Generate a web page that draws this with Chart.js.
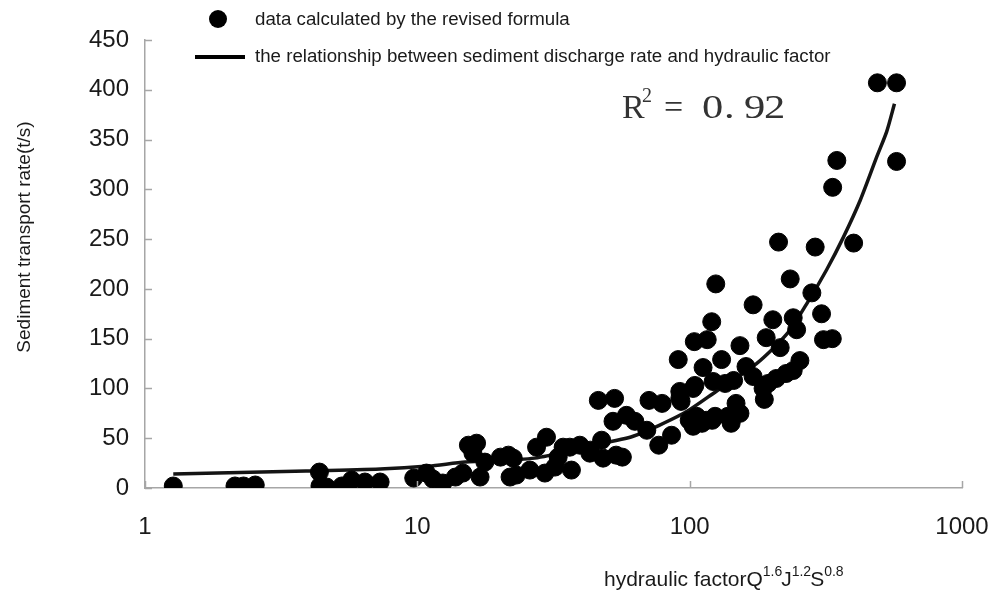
<!DOCTYPE html>
<html>
<head>
<meta charset="utf-8">
<script src="https://cdn.jsdelivr.net/npm/chart.js@4.4.0/dist/chart.umd.min.js"></script>
<style>
  html, body { margin: 0; padding: 0; background: #fff; }
  #wrap { width: 1003px; height: 596px; }
</style>
</head>
<body>
<div id="wrap"><canvas id="chart" width="1003" height="596"></canvas></div>
<script>
// axis ticks
const xTicks = [1, 10, 100, 1000];
const yMin = 0, yMax = 450, yStep = 50;

// scatter: data calculated by the revised formula
const pointX = [1.27, 2.14, 2.30, 2.54, 4.37, 4.39, 4.64, 5.28, 5.74, 6.42, 7.3,
  9.7, 10.8, 11.4, 12.4, 13.8, 14.7, 15.4, 16.5, 16.0, 17.0, 17.7,
  20.2, 21.6, 22.5, 21.9, 23.1, 25.9, 27.4, 29.8, 29.4, 32.0, 32.9, 34.3,
  36.8, 36.3, 39.5, 43, 48.1, 46.2, 53.0, 70.9, 79.2, 52.3, 58.6, 62.9, 69.6,
  47.5, 43.2, 53.7, 56.6, 77, 85.8, 92, 103, 99.6, 111, 121,
  124.7, 234, 171, 281, 120.5, 202, 240, 305, 104, 116, 191, 215, 247, 310, 334,
  153, 90.8, 131, 112, 161, 254, 240, 226, 208, 194, 186, 188,
  104.5, 122, 135, 145, 171, 92, 93, 106, 115, 124, 138, 142, 148, 153, 103,
  489, 575, 575, 347, 335, 212, 289, 400];
const pointY = [2, 2, 2, 3, 16, 2, 1, 2, 8, 6, 6,
  10, 15, 9, 5, 11, 15, 43, 45, 35, 11, 26,
  31, 33, 30, 11, 13, 18, 41, 51, 15, 21, 31, 41,
  18, 41, 43, 35, 30, 88, 90, 88, 85, 67, 73, 67, 58,
  48, 38, 33, 31, 43, 53, 90, 100, 68, 65, 68,
  205, 210, 184, 196, 167, 169, 171, 175, 147, 149, 151, 141, 159, 149, 150,
  143, 129, 129, 121, 122, 128, 118, 115, 110, 105, 100, 89,
  103, 107, 105, 108, 112, 97, 87, 72, 68, 72, 72, 65, 85, 75, 62,
  407, 407, 328, 329, 302, 247, 242, 246];

// fitted relationship curve
const fitX = [1.27, 3.9, 7.3, 11, 15, 27, 42, 62, 95, 125, 176, 228, 269, 318, 367, 423, 487, 529, 565];
const fitY = [14, 17, 19, 22, 26, 30, 42, 52, 75, 97, 125, 155, 185, 219, 252, 289, 333, 358, 386];

const legendLabels = [
  'data calculated by the revised formula',
  'the relationship between sediment discharge rate and hydraulic factor'
];
const yTitle = 'Sediment transport rate(t/s)';
const xTitleParts = [['hydraulic factor', false], ['Q', false], ['1.6', true], ['J', false], ['1.2', true], ['S', false], ['0.8', true]];

const axisColor = '#a6a6a6';
const textColor = '#1a1a1a';

const overlay = {
  id: 'overlay',
  afterDraw(chart) {
    const ctx = chart.ctx;
    const xs = chart.scales.x, ys = chart.scales.y;
    ctx.save();

    // inward tick marks
    ctx.strokeStyle = axisColor;
    ctx.lineWidth = 1.5;
    ctx.beginPath();
    ys.ticks.forEach(t => {
      const py = Math.round(ys.getPixelForValue(t.value)) + 0.5;
      ctx.moveTo(xs.left, py);
      ctx.lineTo(xs.left + 7, py);
    });
    xTicks.forEach(v => {
      const px = Math.round(xs.getPixelForValue(v)) + 0.5;
      ctx.moveTo(px, ys.bottom);
      ctx.lineTo(px, ys.bottom - 7);
    });
    ctx.stroke();

    // legend
    ctx.fillStyle = '#000';
    ctx.beginPath();
    ctx.arc(218, 19, 9, 0, Math.PI * 2);
    ctx.fill();
    ctx.fillRect(195, 55, 50, 4);
    ctx.fillStyle = textColor;
    ctx.font = '18.7px Arial';
    ctx.textBaseline = 'middle';
    ctx.fillText(legendLabels[0], 255, 20);
    ctx.fillText(legendLabels[1], 255, 57);

    // y axis title
    ctx.save();
    ctx.translate(25, 237);
    ctx.rotate(-Math.PI / 2);
    ctx.textAlign = 'center';
    ctx.font = '19px Arial';
    ctx.fillText(yTitle, 0, 0);
    ctx.restore();

    // x axis title with superscripts
    ctx.textBaseline = 'alphabetic';
    let x = 604;
    xTitleParts.forEach(([t, sup]) => {
      ctx.font = sup ? '14px Arial' : '21px Arial';
      ctx.fillText(t, x, sup ? 576 : 586);
      x += ctx.measureText(t).width + (sup ? -1 : 0);
    });

    // R squared
    ctx.fillStyle = '#333';
    ctx.font = '34px "Liberation Serif"';
    ctx.fillText('R', 622, 118);
    ctx.font = '20px "Liberation Serif"';
    ctx.fillText('2', 642, 102);
    ctx.font = '34px "Liberation Serif"';
    ctx.fillText('=', 664, 118);
    const wide = (t, px) => {
      ctx.save();
      ctx.translate(px, 118);
      ctx.scale(1.25, 1);
      ctx.fillText(t, 0, 0);
      ctx.restore();
    };
    wide('0', 702);
    wide('.', 724);
    wide('9', 744);
    wide('2', 764);
    ctx.restore();
  }
};

const ctx = document.getElementById('chart').getContext('2d');
new Chart(ctx, {
  data: {
    datasets: [
      {
        type: 'scatter',
        label: legendLabels[0],
        data: pointX.map((v, i) => ({ x: v, y: pointY[i] })),
        backgroundColor: '#000',
        borderColor: '#000',
        pointRadius: 9,
        pointHoverRadius: 9
      },
      {
        type: 'line',
        label: legendLabels[1],
        data: fitX.map((v, i) => ({ x: v, y: fitY[i] })),
        borderColor: '#141414',
        borderWidth: 3.5,
        pointRadius: 0,
        tension: 0.25,
        fill: false
      }
    ]
  },
  options: {
    responsive: false,
    animation: false,
    layout: { padding: { top: 40, right: 41, left: 0, bottom: 0 } },
    plugins: {
      legend: { display: false },
      tooltip: { enabled: false }
    },
    scales: {
      x: {
        type: 'logarithmic',
        min: 1,
        max: 1000,
        afterBuildTicks: (scale) => { scale.ticks = xTicks.map(v => ({ value: v })); },
        afterFit: (scale) => { scale.height = 108; scale.paddingLeft = 0; scale.paddingRight = 0; },
        ticks: {
          callback: (v) => String(v),
          color: textColor,
          font: { family: 'Arial', size: 24 },
          padding: 25,
          maxRotation: 0,
          autoSkip: false
        },
        grid: { drawOnChartArea: false, drawTicks: false },
        border: { color: axisColor, width: 1.5 }
      },
      y: {
        min: yMin,
        max: yMax,
        afterFit: (scale) => { scale.width = 145; scale.paddingTop = 0; scale.paddingBottom = 0; },
        ticks: {
          stepSize: yStep,
          color: textColor,
          font: { family: 'Arial', size: 24 },
          padding: 16
        },
        grid: { drawOnChartArea: false, drawTicks: false },
        border: { color: axisColor, width: 1.5 }
      }
    }
  },
  plugins: [overlay]
});
</script>
</body>
</html>
